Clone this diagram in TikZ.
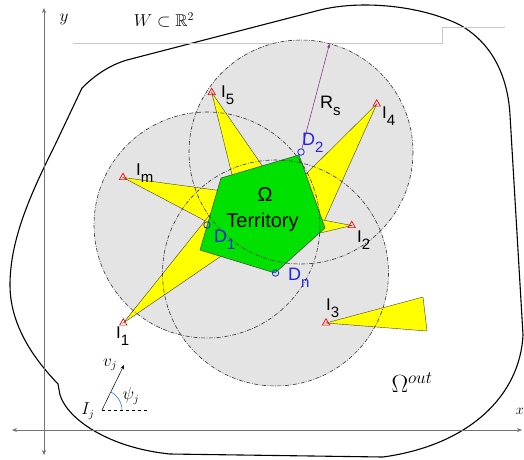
\documentclass[tikz,border=0pt]{standalone}
\usepackage{fontspec}
\usepackage{amssymb}
\newfontfamily\arial{Liberation Sans}
\usetikzlibrary{shapes.geometric,arrows.meta}
\definecolor{zone}{RGB}{228,228,228}
\definecolor{terr}{RGB}{0,225,0}
\definecolor{spike}{RGB}{255,255,0}
\definecolor{dblue}{RGB}{35,35,235}
\newcommand{\ilab}[2]{{\arial\fontsize{17}{17}\selectfont #1\raisebox{-7pt}{\fontsize{15}{15}\selectfont #2}}}
\newcommand{\dlab}[2]{{\arial\fontsize{18}{18}\selectfont #1\raisebox{-7pt}{\fontsize{15}{15}\selectfont #2}}}
\begin{document}
\begin{tikzpicture}[x=1pt,y=-1pt,
  boundary/.style={line width=1.1pt,black},
  axis/.style={gray!90!black,line width=0.6pt,{Stealth[length=5pt,width=4pt]}-{Stealth[length=5pt,width=4pt]}},
  zonefill/.style={fill=zone},
  zoneline/.style={black!80,line width=0.6pt,dash pattern=on 4pt off 1.5pt on 0.8pt off 1.5pt},
  spk/.style={fill=spike,draw=black!75,line width=0.4pt},
  intr/.style={regular polygon,regular polygon sides=3,draw=red,line width=0.7pt,minimum size=8.5pt,inner sep=0pt},
  dmark/.style={circle,draw=dblue,line width=0.8pt,minimum size=6.5pt,inner sep=0pt},
  lab/.style={anchor=base west,inner sep=0pt},
  mlab/.style={inner sep=0pt}]
\useasboundingbox (0,0) rectangle (524,459);
% outer boundary
\draw[boundary] (82,88) .. controls (95,75) and (110,65) .. (127,60)
  -- (320,10) .. controls (360,0) and (420,5) .. (460,25)
  .. controls (495,45) and (508,80) .. (510,115)
  -- (523,335) .. controls (520,395) and (470,445) .. (383,457)
  -- (170,454) .. controls (110,448) and (68,420) .. (60,395)
  -- (58,384) .. controls (40,365) and (10,330) .. (10,285)
  .. controls (10,240) and (30,195) .. (55,145) -- cycle;
% W line
\draw[gray!45,line width=0.8pt] (73,43) -- (442,43) -- (442,27) -- (505,27);
\node[mlab,font=\fontsize{17}{17}\selectfont] (W) at (164,20) {$W\subset\mathbb{R}^2$};
% axes
\draw[axis] (12,430) -- (522,430);
\draw[axis] (44,455) -- (44,8);
\node[mlab,font=\fontsize{16}{16}\selectfont] (ylab) at (64,19) {$y$};
\node[anchor=east,inner sep=0pt,font=\fontsize{15}{15}\selectfont] (xlab) at (524,411) {$x$};
% centres
\coordinate (c1) at (301,152);
\coordinate (c2) at (207,225);
\coordinate (c3) at (275.5,273);
% zone fills
\fill[zone] (c1) circle [radius=112];
\fill[zone] (c2) circle [radius=113];
\fill[zone] (c3) circle [radius=113];
% intruder markers positions
\coordinate (p5) at (211.7,92.5);
\coordinate (p4) at (376.7,104);
\coordinate (pm) at (123,177.5);
\coordinate (p2) at (351.7,225.5);
\coordinate (p1) at (123.3,323);
\coordinate (p3) at (326,323);
% spikes
\draw[spk] (p5) -- (235,187) -- (270,177) -- cycle;
\draw[spk] (p4) -- (298,182) -- (322,226) -- cycle;
\draw[spk] (p2) -- (318,219) -- (320,233) -- cycle;
\draw[spk] (pm) -- (230,192) -- (215,226) -- cycle;
\draw[spk] (p1) -- (212,212) -- (230,250) -- cycle;
\draw[spk] (p3) -- (423,297) -- (427,331) -- cycle;
% territory
\draw[fill=terr,draw=black!75,line width=0.5pt] (221,178) -- (299,155) -- (325,228) -- (275,273) -- (200,250) -- cycle;
% zone borders
\draw[zoneline] (c1) circle [radius=112];
\draw[zoneline] (c2) circle [radius=113];
\draw[zoneline] (c3) circle [radius=113];
% markers
\node[intr] (I5) at (p5) {};
\node[intr] (I4) at (p4) {};
\node[intr] (Im) at (pm) {};
\node[intr] (I2) at (p2) {};
\node[intr] (I1) at (p1) {};
\node[intr] (I3) at (p3) {};
\node[dmark] (D2) at (c1) {};
\node[dmark] (D1) at (c2) {};
\node[dmark] (Dn) at (c3) {};
% Rs
\coordinate (rs) at (329.5,44);
\draw[violet!70!gray,line width=0.5pt,-{Stealth[length=4pt,width=3pt]}] (D2) -- (rs);
\node[lab] (Rs) at (320,108) {\dlab{R}{s}};
% labels
\node[lab] (l5) at (221,97) {\ilab{I}{5}};
\node[lab] (l4) at (382,118) {\ilab{I}{4}};
\node[lab] (lm) at (136,175) {\ilab{I}{m}};
\node[lab] (l2) at (357,242) {\ilab{I}{2}};
\node[lab] (l1) at (116,338) {\ilab{I}{1}};
\node[lab] (l3) at (326,310) {\ilab{I}{3}};
\node[lab,text=dblue] (d2) at (302,145) {\dlab{D}{2}};
\node[lab,text=dblue] (d1) at (214,242) {\dlab{D}{1}};
\node[lab,text=dblue] (dn) at (288,280) {\dlab{D}{n}};
\node[mlab,font=\arial\fontsize{20}{20}\selectfont] (om) at (265,195) {Ω};
\node[mlab,anchor=base,font=\arial\fontsize{20}{20}\selectfont] (terr) at (262.5,227) {Territory};
\node[mlab,font=\fontsize{23}{23}\selectfont] (out) at (412,383) {$\Omega^{out}$};
% heading vector
\coordinate (Ij) at (102,410);
\coordinate (vj) at (124,365);
\coordinate (hz) at (148,410);
\draw[line width=0.5pt,-{Stealth[length=4.5pt,width=3.5pt]}] (Ij) -- (vj);
\draw[dashed,line width=0.5pt] (Ij) -- (hz);
\draw[blue!60!cyan,line width=0.5pt] (122,410) arc[start angle=0,end angle=-64,radius=20];
\node[mlab,font=\fontsize{16}{16}\selectfont] (Ijl) at (88,411) {$I_j$};
\node[mlab,font=\fontsize{16}{16}\selectfont] (vjl) at (110,365) {$v_j$};
\node[mlab,font=\fontsize{16}{16}\selectfont] (psil) at (131,396) {$\psi_j$};
\end{tikzpicture}
\end{document}
